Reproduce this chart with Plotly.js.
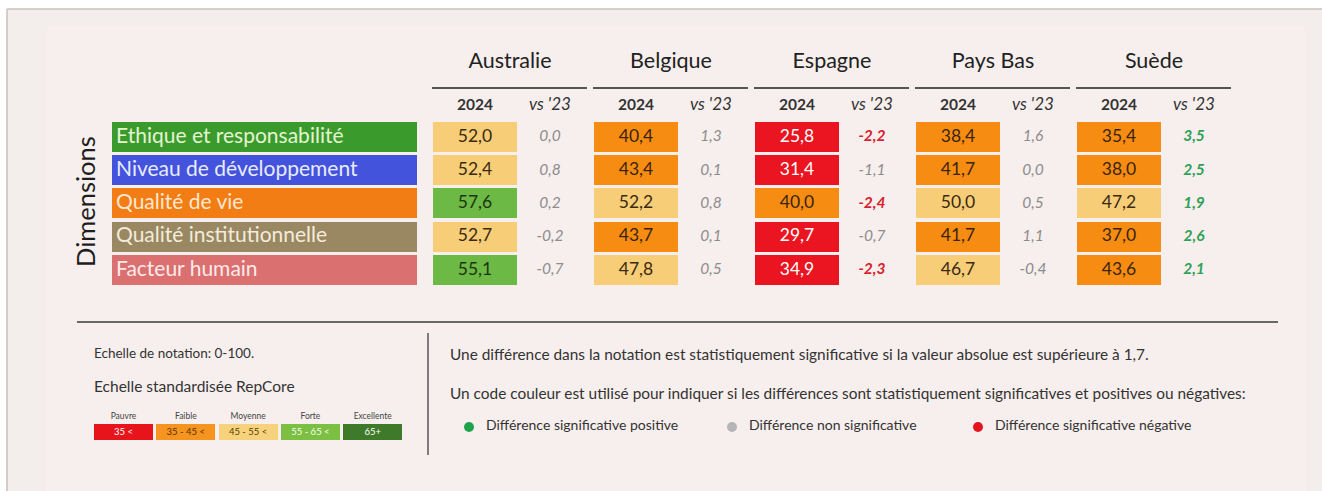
<!DOCTYPE html>
<html><head><meta charset="utf-8">
<script src="https://cdn.plot.ly/plotly-3.0.1.min.js"></script>
<style>html,body{margin:0;padding:0;background:#fff;}#chart{width:1322px;height:491px;}</style>
</head><body><div id="chart"></div>
<script>
// ---------- DATA ----------
const countries = ['Australie','Belgique','Espagne','Pays Bas','Suède'];
const dimensions = ['Ethique et responsabilité','Niveau de développement','Qualité de vie','Qualité institutionnelle','Facteur humain'];
const score2024_Australie = [52.0, 52.4, 57.6, 52.7, 55.1];
const score2024_Belgique  = [40.4, 43.4, 52.2, 43.7, 47.8];
const score2024_Espagne   = [25.8, 31.4, 40.0, 29.7, 34.9];
const score2024_PaysBas   = [38.4, 41.7, 50.0, 41.7, 46.7];
const score2024_Suede     = [35.4, 38.0, 47.2, 37.0, 43.6];
const vs23_Australie = [0.0, 0.8, 0.2, -0.2, -0.7];
const vs23_Belgique  = [1.3, 0.1, 0.8, 0.1, 0.5];
const vs23_Espagne   = [-2.2, -1.1, -2.4, -0.7, -2.3];
const vs23_PaysBas   = [1.6, 0.0, 0.5, 1.1, -0.4];
const vs23_Suede     = [3.5, 2.5, 1.9, 2.6, 2.1];
const scaleLabels = ['Pauvre','Faible','Moyenne','Forte','Excellente'];
const scaleRanges = ['35 <','35 - 45 <','45 - 55 <','55 - 65 <','65+'];
const scaleBreaks = [35, 45, 55, 65];
const significanceThreshold = 1.7;
const legendItems = ['Différence significative positive','Différence non significative','Différence significative négative'];
const noteLine1 = 'Une différence dans la notation est statistiquement significative si la valeur absolue est supérieure à 1,7.';
const noteLine2 = 'Un code couleur est utilisé pour indiquer si les différences sont statistiquement significatives et positives ou négatives:';
const scaleTitle1 = 'Echelle de notation: 0-100.';
const scaleTitle2 = 'Echelle standardisée RepCore';

const scores = [score2024_Australie, score2024_Belgique, score2024_Espagne, score2024_PaysBas, score2024_Suede];
const diffs  = [vs23_Australie, vs23_Belgique, vs23_Espagne, vs23_PaysBas, vs23_Suede];

// ---------- STYLE ----------
const FONT = 'Lato, "Open Sans", sans-serif';
const dimColors = ['#3a9b2c','#4353dc','#f27d14','#9a8862','#da7070'];
const dimTextColors = ['#e4f4d2','#e8ebff','#ffe8d2','#f3ecdc','#ffeaea'];
const bandColors = ['#ea1520','#f68c12','#f7cd78','#6cb946','#3f7b2b'];
const bandTextColors = ['#ffffff','#3a2410','#3a2a10','#1e3410','#ffffff'];
const scaleBoxColors = ['#e8141c','#f5951f','#f7d27c','#7cbf42','#3f7a2a'];
const scaleBoxText = ['#ffffff','#5a3000','#5a4000','#f0fff0','#ffffff'];
const sigColors = {pos:'#2fa055', neu:'#8c8c8c', neg:'#d8202e'};
const dotColors = ['#1fa34a','#b5b5b5','#e3141c'];

const rowY0 = 137, rowPitch = 33.2, rowH = 30;
const rowY = dimensions.map((d,i)=>rowY0 + i*rowPitch);
const colX0 = 433, colPitch = 161, cellW = 84, vsOff = 117;

function band(v){ let b=0; for(const t of scaleBreaks){ if(v>=t) b++; } return b; }
function fmt(v){ return v.toFixed(1).replace('.',','); }

const traces = [];
// dimension boxes
traces.push({type:'bar', orientation:'h', y:rowY, x:dimensions.map(()=>305), base:dimensions.map(()=>112),
  width:rowH, marker:{color:dimColors}, hoverinfo:'skip', showlegend:false});
traces.push({type:'scatter', mode:'text', x:dimensions.map(()=>116), y:rowY.map(v=>v+0.5), text:dimensions,
  textposition:'middle right', textfont:{family:FONT, size:21, color:dimTextColors}, hoverinfo:'skip', showlegend:false});

countries.forEach((c,ci)=>{
  const x0 = colX0 + ci*colPitch;
  const s = scores[ci], d = diffs[ci];
  traces.push({type:'bar', orientation:'h', y:rowY, x:s.map(()=>cellW), base:s.map(()=>x0), width:rowH,
    marker:{color:s.map(v=>bandColors[band(v)])}, hoverinfo:'skip', showlegend:false});
  traces.push({type:'scatter', mode:'text', x:s.map(()=>x0+cellW/2), y:rowY.map(v=>v+0.5), text:s.map(fmt),
    textposition:'middle center', textfont:{family:FONT, size:17.5, color:s.map(v=>bandTextColors[band(v)])},
    hoverinfo:'skip', showlegend:false});
  traces.push({type:'scatter', mode:'text', x:d.map(()=>x0+vsOff), y:rowY.map(v=>v+0.5),
    text:d.map(v=> Math.abs(v)>significanceThreshold ? '<b><i>'+fmt(v)+'</i></b>' : '<i>'+fmt(v)+'</i>'),
    textposition:'middle center',
    textfont:{family:FONT, size:15.5, color:d.map(v=> v>significanceThreshold?sigColors.pos:(v< -significanceThreshold?sigColors.neg:sigColors.neu))},
    hoverinfo:'skip', showlegend:false});
});
// headers
traces.push({type:'scatter', mode:'text', x:countries.map((c,i)=>colX0+i*colPitch+77), y:countries.map(()=>63), text:countries,
  textposition:'middle center', textfont:{family:FONT, size:21.5, color:'#222'}, hoverinfo:'skip', showlegend:false});
traces.push({type:'scatter', mode:'text', x:countries.map((c,i)=>colX0+i*colPitch+cellW/2), y:countries.map(()=>106), text:countries.map(()=>'<b>2024</b>'),
  textposition:'middle center', textfont:{family:FONT, size:15.5, color:'#333'}, hoverinfo:'skip', showlegend:false});
traces.push({type:'scatter', mode:'text', x:countries.map((c,i)=>colX0+i*colPitch+vsOff), y:countries.map(()=>106), text:countries.map(()=>"<i>vs '23</i>"),
  textposition:'middle center', textfont:{family:FONT, size:17, color:'#333'}, hoverinfo:'skip', showlegend:false});

// scale legend
const sx0 = 94, sPitch = 62.3, sW = 59;
traces.push({type:'bar', orientation:'h', y:scaleLabels.map(()=>432), x:scaleLabels.map(()=>sW), base:scaleLabels.map((s,i)=>sx0+i*sPitch),
  width:16, marker:{color:scaleBoxColors}, hoverinfo:'skip', showlegend:false});
traces.push({type:'scatter', mode:'text', x:scaleLabels.map((s,i)=>sx0+i*sPitch+sW/2), y:scaleLabels.map(()=>432.5), text:scaleRanges,
  textposition:'middle center', textfont:{family:FONT, size:9.5, color:scaleBoxText}, hoverinfo:'skip', showlegend:false});
traces.push({type:'scatter', mode:'text', x:scaleLabels.map((s,i)=>sx0+i*sPitch+sW/2), y:scaleLabels.map(()=>416.5), text:scaleLabels,
  textposition:'middle center', textfont:{family:FONT, size:8.5, color:'#444'}, hoverinfo:'skip', showlegend:false});

// significance legend
const dotX = [469, 732, 978];
traces.push({type:'scatter', mode:'markers', x:dotX, y:dotX.map(()=>427), marker:{size:10, color:dotColors},
  hoverinfo:'skip', showlegend:false});
traces.push({type:'scatter', mode:'text', x:dotX.map(v=>v+17), y:dotX.map(()=>426.5), text:legendItems,
  textposition:'middle right', textfont:{family:FONT, size:14, color:'#333'}, hoverinfo:'skip', showlegend:false});

const shapes = [
  {type:'rect', xref:'x', yref:'y', x0:7, x1:1322, y0:9, y1:491, fillcolor:'#f3eeeb', line:{width:0}, layer:'below'},
  {type:'line', xref:'x', yref:'y', x0:7, x1:1322, y0:9, y1:9, line:{color:'#c9c1ba', width:1.5}, layer:'below'},
  {type:'line', xref:'x', yref:'y', x0:7, x1:7, y0:9, y1:491, line:{color:'#c9c1ba', width:1.5}, layer:'below'},
  {type:'rect', xref:'x', yref:'y', x0:47, x1:1305, y0:26, y1:491, fillcolor:'#f7efed', line:{width:0}, layer:'below'},
  {type:'line', xref:'x', yref:'y', x0:77, x1:1278, y0:322, y1:322, line:{color:'#3a3a3a', width:1.5}},
  {type:'line', xref:'x', yref:'y', x0:428, x1:428, y0:333, y1:455, line:{color:'#555', width:1.5}},
];
countries.forEach((c,i)=>{
  const x0 = colX0 + i*colPitch;
  shapes.push({type:'line', xref:'x', yref:'y', x0:x0-1, x1:x0+154, y0:88, y1:88, line:{color:'#555', width:2}});
});

const annotations = [
  {xref:'x', yref:'y', x:85, y:202, text:'Dimensions', textangle:-90, showarrow:false, font:{family:FONT, size:25.5, color:'#1e1e1e'}},
  {xref:'x', yref:'y', x:92, y:353, text:scaleTitle1, xanchor:'left', yanchor:'middle', showarrow:false, font:{family:FONT, size:13.5, color:'#333'}},
  {xref:'x', yref:'y', x:92, y:386, text:scaleTitle2, xanchor:'left', yanchor:'middle', showarrow:false, font:{family:FONT, size:15.5, color:'#333'}},
  {xref:'x', yref:'y', x:448, y:354, text:noteLine1, xanchor:'left', yanchor:'middle', showarrow:false, font:{family:FONT, size:15.4, color:'#333'}},
  {xref:'x', yref:'y', x:448, y:393, text:noteLine2, xanchor:'left', yanchor:'middle', showarrow:false, font:{family:FONT, size:15.4, color:'#333'}},
];

const layout = {
  width:1322, height:491, margin:{l:0,r:0,t:0,b:0}, paper_bgcolor:'#ffffff', plot_bgcolor:'rgba(0,0,0,0)',
  barmode:'overlay', bargap:0,
  xaxis:{range:[0,1322], visible:false, fixedrange:true},
  yaxis:{range:[491,0], visible:false, fixedrange:true},
  shapes:shapes, annotations:annotations, showlegend:false, font:{family:FONT}
};
Plotly.newPlot('chart', traces, layout, {staticPlot:true, displayModeBar:false});
</script></body></html>
